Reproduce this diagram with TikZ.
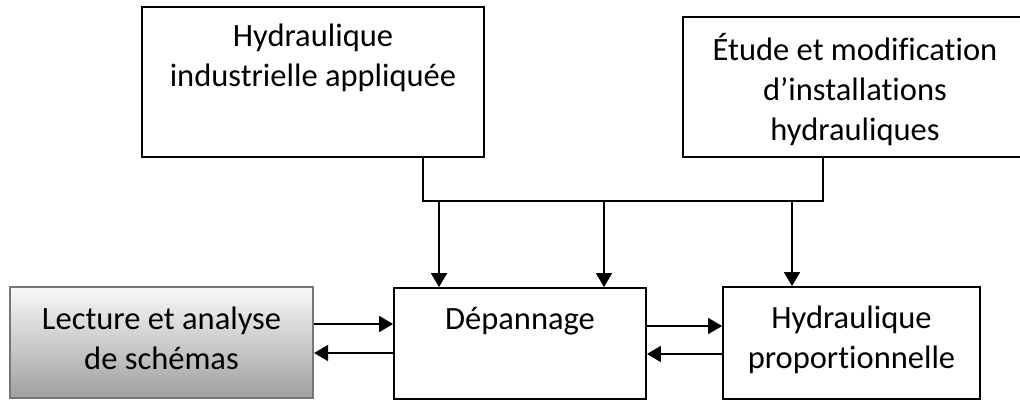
\documentclass[tikz,border=0pt]{standalone}
\usepackage{fontspec}
\setmainfont{Carlito}[Ligatures=NoCommon]
\usetikzlibrary{arrows.meta}

\definecolor{bordgris}{RGB}{118,118,118}

\tikzset{
	cadre/.style={draw=black, line width=1.8pt, inner sep=0pt},
	cadregris/.style={draw=bordgris, line width=2.2pt, inner sep=0pt, top color=gray!5, bottom color=gray!75},
	texte/.style={align=center, font=\fontsize{32.5}{40}\selectfont},
	trait/.style={draw=black, line width=1.7pt},
	fleche/.style={trait, -{Triangle[length=14pt,width=16pt]}}
}

\begin{document}
\begin{tikzpicture}[x=1pt, y=-1pt]

	\useasboundingbox (0,0) rectangle (1020,401);

	\def\yBus{201}

	%CADRES
	\node[cadre, minimum width=342pt, minimum height=150pt] (indus) at (313,82) {};
	\node[cadre, minimum width=344pt, minimum height=140pt] (etude) at (855,87) {};
	\node[cadre, minimum width=252pt, minimum height=111pt] (depan) at (520,343.5) {};
	\node[cadre, minimum width=257pt, minimum height=112pt] (propo) at (851.5,343) {};
	\node[cadregris, minimum width=303pt, minimum height=111pt] (lect) at (161.5,342.5) {};

	%TEXTES
	\node[texte] (tIndus) at (313,58) {Hydraulique\\industrielle appliquée};
	\node[texte] (tEtude) at (855,90) {Étude et modification\\d’installations\\hydrauliques};
	\node[texte, anchor=base] (tDepan) at (520,329) {Dépannage};
	\node[texte] (tPropo) at (851.5,340) {Hydraulique\\proportionnelle};
	\node[texte] (tLect) at (161.5,338) {Lecture et analyse\\de schémas};

	%BUS
	\coordinate (busG) at (423,\yBus);
	\coordinate (busD) at (823,\yBus);
	\draw[trait] (indus.south -| busG) -- (busG) -- (busD) -- (etude.south -| busD);

	%FLECHES
	\foreach \xx/\cible in {439/depan, 604/depan, 792/propo}
		\draw[fleche] (\xx,\yBus) -- (\cible.north -| \xx,\yBus);

	\draw[fleche] ([yshift=18.5pt]lect.east) -- ([yshift=18.5pt]lect.east -| depan.west);
	\draw[fleche] ([yshift=-9.5pt]depan.west) -- ([yshift=-9.5pt]depan.west -| lect.east);
	\draw[fleche] ([yshift=17.5pt]depan.east) -- ([yshift=17.5pt]depan.east -| propo.west);
	\draw[fleche] ([yshift=-11pt]propo.west) -- ([yshift=-11pt]propo.west -| depan.east);

\end{tikzpicture}
\end{document}
